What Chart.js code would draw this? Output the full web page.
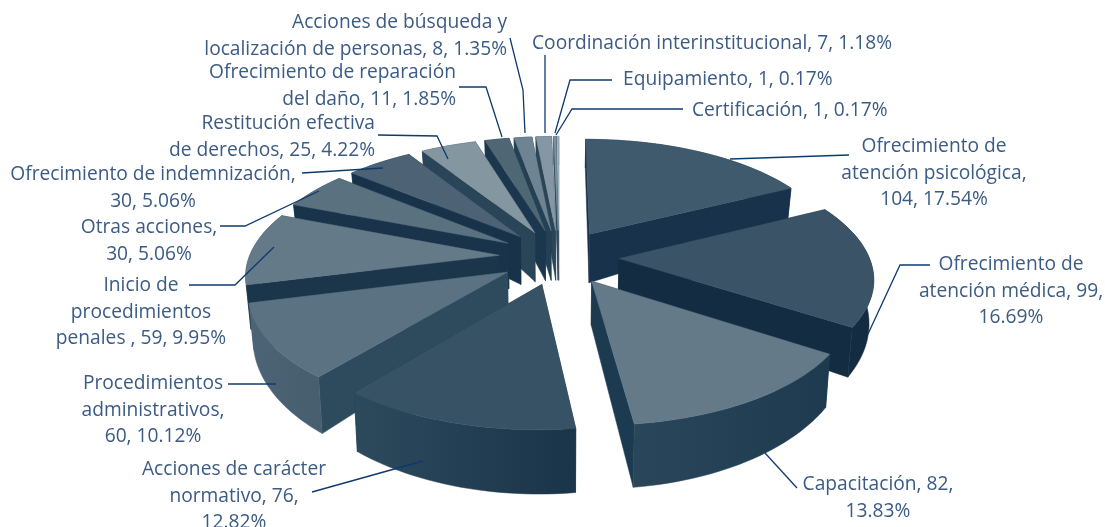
<!DOCTYPE html>
<html lang="es">
<head>
    <meta charset="UTF-8">
    <title>Acciones</title>
    <script src="https://cdn.jsdelivr.net/npm/chart.js"></script>
    <style>
        html, body { margin: 0; padding: 0; background: #fff; }
        canvas { display: block; }
    </style>
</head>
<body>
    <canvas id="pie3d" width="1105" height="527"></canvas>
    <script>
        const categories = ['Ofrecimiento de atención psicológica', 'Ofrecimiento de atención médica', 'Capacitación',
            'Acciones de carácter normativo', 'Procedimientos administrativos', 'Inicio de procedimientos penales',
            'Otras acciones', 'Ofrecimiento de indemnización', 'Restitución efectiva de derechos',
            'Ofrecimiento de reparación del daño', 'Acciones de búsqueda y localización de personas',
            'Coordinación interinstitucional', 'Equipamiento', 'Certificación'];
        const values = [104, 99, 82, 76, 60, 59, 30, 30, 25, 11, 8, 7, 1, 1];

        // colores: cara superior, cortes, pared exterior (izq, der)
        const topColors = ['#3f5a6c', '#3a5366', '#647a88', '#385265', '#5b7282', '#647a88', '#5a7180',
            '#4d6274', '#84969f', '#4f6675', '#6f8492', '#8497a2', '#7d929e', '#a3b3bb'];
        const cutColors = ['#17324a', '#132c42', '#1d3b50', '#1d3a4f', '#2e4a5d', '#1b364b', '#19334a',
            '#18324a', '#2a4557', '#1a374d', '#234054', '#2a4557', '#2f4a5c', '#4a6272'];
        const wallLeft = ['#17324a', '#132c42', '#2a465a', '#2d4a5d', '#4c6475', '#3c5568', '#19334a',
            '#18324a', '#2a4557', '#1a374d', '#234054', '#2a4557', '#2f4a5c', '#4a6272'];
        const wallRight = ['#17324a', '#132c42', '#1e3a4f', '#1a3449', '#475e6f', '#3c5568', '#19334a',
            '#18324a', '#2a4557', '#1a374d', '#234054', '#2a4557', '#2f4a5c', '#4a6272'];

        // etiquetas: lineas, alineacion, x, y de la primera linea
        const labelLines = [
            [['Ofrecimiento de', 'atención psicológica,', '104, 17.54%'], 'center', 934, 147],
            [['Ofrecimiento de', 'atención médica, 99,', '16.69%'], 'center', 1011, 265],
            [['Capacitación, 82,', '13.83%'], 'center', 878, 485],
            [['Acciones de carácter', 'normativo, 76,', '12.82%'], 'center', 234, 470],
            [['Procedimientos', 'administrativos,', '60, 10.12%'], 'center', 153, 384],
            [['Inicio de', 'procedimientos', 'penales , 59, 9.95%'], 'center', 141, 286],
            [['Otras acciones,', '30, 5.06%'], 'center', 149, 228],
            [['Ofrecimiento de indemnización,', '30, 5.06%'], 'center', 153, 175],
            [['Restitución efectiva', 'de derechos, 25, 4.22%'], 'right', 375, 124],
            [['Ofrecimiento de reparación', 'del daño, 11, 1.85%'], 'right', 456, 73],
            [['Acciones de búsqueda y', 'localización de personas, 8, 1.35%'], 'right', 507, 23],
            [['Coordinación interinstitucional, 7, 1.18%'], 'left', 532, 44],
            [['Equipamiento, 1, 0.17%'], 'left', 623, 80],
            [['Certificación, 1, 0.17%'], 'left', 692, 111]
        ];
        const leaderLines = [
            [[849, 155], [730, 159]],
            [[930, 265], [900, 265], [868, 334]],
            [[797, 488], [765, 453]],
            [[312, 492], [423, 461]],
            [[228, 384], [276, 384]],
            [[189, 285], [235, 285], [274, 247]],
            [[220, 226], [245, 226], [319, 191]],
            [[302, 173], [383, 168]],
            [[378, 135], [437, 136], [448, 159]],
            [[459, 87], [486, 87], [502, 137]],
            [[510, 38], [523, 90], [525, 133]],
            [[545, 55], [545, 133]],
            [[612, 80], [570, 80], [555, 133]],
            [[683, 109], [572, 109], [556, 135]]
        ];

        const cam = { cx: 559, cy: 257, squash: 0.46, dist: 1700, height: 41, tipExtra: 12, radiusScale: 250 / 235.5, offsetScale: 60 / 56 };

        function project(x, y, low) {
            const p = 1 / (1 - y / cam.dist);
            return {
                x: cam.cx + x * p * (low ? 0.985 : 1),
                y: cam.cy + cam.squash * y * p + (low ? cam.height * Math.pow(p, 2.25) : 0)
            };
        }

        function fillPoly(ctx, pts, fill) {
            ctx.beginPath();
            pts.forEach((pt, i) => i ? ctx.lineTo(pt.x, pt.y) : ctx.moveTo(pt.x, pt.y));
            ctx.closePath();
            ctx.fillStyle = fill;
            ctx.strokeStyle = fill;
            ctx.lineWidth = 0.5;
            ctx.fill();
            ctx.stroke();
        }

        // dibuja una porcion a partir de los angulos que calcula Chart.js
        function drawSlice(ctx, arc, i) {
            const r = arc.outerRadius * cam.radiusScale;
            const mid = (arc.startAngle + arc.endAngle) / 2;
            const off = arc.options.offset * cam.offsetScale;
            const ox = Math.cos(mid) * off;
            const oy = Math.sin(mid) * off;
            const rim = [];
            const steps = Math.max(2, Math.ceil((arc.endAngle - arc.startAngle) / 0.03));
            for (let s = 0; s <= steps; s++) {
                const a = arc.startAngle + (arc.endAngle - arc.startAngle) * s / steps;
                rim.push([ox + Math.cos(a) * r, oy + Math.sin(a) * r]);
            }
            const up = rim.map(q => project(q[0], q[1], false));
            const down = rim.map(q => project(q[0], q[1], true));
            const tipUp = project(ox, oy, false);
            const tipDown = project(ox, oy, true);
            // las porciones del fondo tienen la punta mas alta en el original
            tipDown.y += cam.tipExtra * Math.max(0, -Math.sin(mid));

            const xs = up.concat(down).map(q => q.x);
            const grad = ctx.createLinearGradient(Math.min(...xs), 0, Math.max(...xs), 0);
            grad.addColorStop(0, wallLeft[i]);
            grad.addColorStop(1, wallRight[i]);

            const faces = [
                { pts: [tipUp, up[0], down[0], tipDown], fill: cutColors[i] },
                { pts: [tipUp, up[steps], down[steps], tipDown], fill: cutColors[i] },
                { pts: up.concat(down.slice().reverse()), fill: grad }
            ];
            const depth = f => f.pts.reduce((t, q) => t + q.y, 0) / f.pts.length;
            faces.sort((a, b) => depth(a) - depth(b));
            faces.forEach(f => fillPoly(ctx, f.pts, f.fill));
            fillPoly(ctx, [tipUp].concat(up), arc.options.backgroundColor);
        }

        const pie3dPlugin = {
            id: 'pie3d',
            beforeDatasetsDraw(chart) {
                const ctx = chart.ctx;
                const arcs = chart.getDatasetMeta(0).data;
                const order = arcs.map((arc, i) => i).sort((a, b) => {
                    const ma = (arcs[a].startAngle + arcs[a].endAngle) / 2;
                    const mb = (arcs[b].startAngle + arcs[b].endAngle) / 2;
                    return Math.sin(ma) - Math.sin(mb);
                });
                ctx.save();
                order.forEach(i => drawSlice(ctx, arcs[i], i));
                ctx.restore();
                return false;
            },
            afterDraw(chart) {
                const ctx = chart.ctx;
                ctx.save();
                ctx.strokeStyle = '#0f3a6e';
                ctx.lineWidth = 1.3;
                leaderLines.forEach(line => {
                    ctx.beginPath();
                    line.forEach((pt, i) => i ? ctx.lineTo(pt[0], pt[1]) : ctx.moveTo(pt[0], pt[1]));
                    ctx.stroke();
                });
                ctx.fillStyle = '#3b5b85';
                ctx.font = '19.2px "Open Sans"';
                ctx.textBaseline = 'middle';
                labelLines.forEach(([lines, align, x, y]) => {
                    ctx.textAlign = align;
                    lines.forEach((text, i) => ctx.fillText(text, x, y + i * 26.3));
                });
                ctx.restore();
            }
        };

        new Chart(document.getElementById('pie3d'), {
            type: 'pie',
            data: {
                labels: categories,
                datasets: [{ data: values, backgroundColor: topColors, borderWidth: 0, offset: 56 }]
            },
            options: {
                responsive: false,
                animation: false,
                plugins: { legend: { display: false }, tooltip: { enabled: false } }
            },
            plugins: [pie3dPlugin]
        });
    </script>
</body>
</html>
